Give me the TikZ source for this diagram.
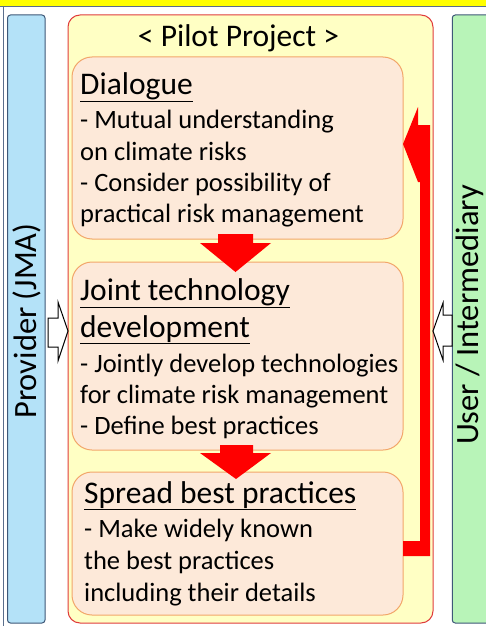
\documentclass[tikz,border=0pt]{standalone}
\usepackage{fontspec}
\setmainfont{Carlito}
\definecolor{peach}{HTML}{FDE9D9}
\definecolor{peachline}{HTML}{F2A66A}
\definecolor{mainfill}{HTML}{FFFFC4}
\definecolor{mainline}{HTML}{E03C3C}
\definecolor{bluefill}{HTML}{B4E2F8}
\definecolor{greenfill}{HTML}{B8F4B8}
\definecolor{sideline}{HTML}{3E5878}
\definecolor{topyellow}{HTML}{FFFF00}
\definecolor{framegray}{HTML}{5A6E8C}
\begin{document}
\begin{tikzpicture}[x=1pt,y=-1pt,
  body/.style={anchor=base west, font=\fontsize{26.5}{31}\selectfont, inner sep=0pt},
  head/.style={anchor=base west, font=\fontsize{31.5}{36}\selectfont, inner sep=0pt},
  stage/.style={draw=peachline, fill=peach, rounded corners=20pt, line width=1pt, minimum width=331pt, inner sep=0pt, outer sep=0pt},
  side/.style={rounded corners=3pt, draw=sideline, line width=1pt, minimum width=37.5pt, minimum height=608pt, inner sep=0pt, outer sep=0pt},
  sidetext/.style={rotate=90, font=\fontsize{32.5}{36}\selectfont, inner sep=0pt},
  hollow/.style={draw=black, fill=white, line width=1pt},
  redarrow/.style={fill=red, draw=none}]
\useasboundingbox (0,0) rectangle (486,626);
\fill[white] (0,0) rectangle (486,626);
\fill[topyellow] (0,0) rectangle (486,6);
\draw[framegray, line width=1pt] (0,6.5) -- (486,6.5);
\draw[framegray, line width=1pt] (3.5,6.5) -- (3.5,626);

% side boxes
\node[side, fill=bluefill] (prov) at (26.25,319) {};
\node[side, fill=greenfill] (user) at (471,319) {};
\node[sidetext] (provt) at (27,321) {Provider (JMA)};
\node[sidetext] (usert) at (470,315) {User / Intermediary};

% main box
\node[draw=mainline, fill=mainfill, rounded corners=12pt, line width=1pt, minimum width=365pt, minimum height=608pt, inner sep=0pt, outer sep=0pt] (main) at (250.5,319) {};
\node[anchor=base, font=\fontsize{31.5}{36}\selectfont, inner sep=0pt] (title) at (238.5,47) {< Pilot Project >};

% stage boxes
\node[stage, minimum height=182pt] (b1) at (237.5,148) {};
\node[stage, minimum height=188pt] (b2) at (237.5,356) {};
\node[stage, minimum height=143pt] (b3) at (237.5,543.5) {};

% texts
\node[head] (h1) at (80,94) {\underline{Dialogue}};
\node[body] (t11) at (80,128) {- Mutual understanding};
\node[body] (t12) at (80,160) {on climate risks};
\node[body] (t13) at (80,191) {- Consider possibility of};
\node[body] (t14) at (80,222) {practical risk management};

\node[head] (h2a) at (80,300) {\underline{Joint technology}};
\node[head] (h2b) at (80,337) {\underline{development}};
\node[body] (t21) at (80,372) {- Jointly develop technologies};
\node[body] (t22) at (80,403) {for climate risk management};
\node[body] (t23) at (80,434) {- Define best practices};

\node[head] (h3) at (84,503) {\underline{Spread best practices}};
\node[body] (t31) at (84,537) {- Make widely known};
\node[body] (t32) at (84,569) {the best practices};
\node[body] (t33) at (84,601) {including their details};

% red down arrows
\fill[redarrow] (218,234) -- (253,234) -- (253,243) -- (271,243) -- (235.5,272) -- (200,243) -- (218,243) -- cycle;
\fill[redarrow] (220,445) -- (253,445) -- (253,453) -- (271,453) -- (236,479) -- (200,453) -- (220,453) -- cycle;

% feedback arrow
\fill[redarrow] (403,144) -- (418,107) -- (418,125) -- (430,125) -- (430,556) -- (403,556) -- (403,541) -- (420,541) -- (420,182) -- (418,182) -- cycle;

% hollow arrows
\filldraw[hollow] (48,318) -- (58,318) -- (58,302) -- (68,331) -- (58,361) -- (58,347) -- (48,347) -- cycle;
\filldraw[hollow] (452,315) -- (443,315) -- (443,303) -- (433,331) -- (443,360) -- (443,346) -- (452,346) -- cycle;
\end{tikzpicture}
\end{document}
